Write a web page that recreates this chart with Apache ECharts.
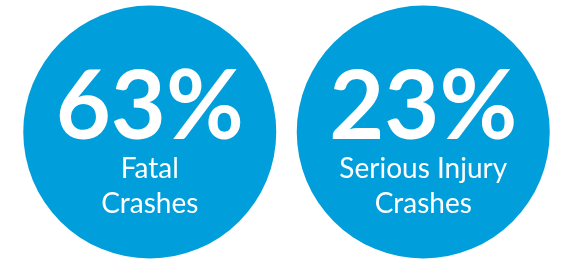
<!DOCTYPE html>
<html>
<head>
<meta charset="utf-8">
<script src="https://cdn.jsdelivr.net/npm/echarts@6/dist/echarts.min.js"></script>
<style>
  html, body { margin: 0; padding: 0; background: #fff; }
  #chart { width: 562px; height: 261px; }
</style>
</head>
<body>
<div id="chart"></div>
<script>
// share of crashes
const categories = ['Fatal Crashes', 'Serious Injury Crashes'];
const percents = [63, 23];
const firstLine = ['Fatal', 'Serious Injury'];
const secondLine = ['Crashes', 'Crashes'];

const chart = echarts.init(document.getElementById('chart'));

chart.setOption({
    animation: false,
    grid: { left: 13, width: 547, top: 6, height: 252 },
    xAxis: { type: 'category', data: categories, show: false },
    yAxis: { type: 'value', min: 0, max: 1, show: false },
    series: [{
        type: 'scatter',
        symbol: 'circle',
        symbolSize: 253,
        itemStyle: { color: '#009edb', opacity: 1 },
        data: percents.map((p, i) => [i, 0.5, p]),
        label: {
            show: true,
            position: 'inside',
            offset: [0, 11],
            formatter: (params) => {
                const i = params.dataIndex;
                return '{num|' + percents[i] + '%}\n{txt|' + firstLine[i] + '}\n{txt|' + secondLine[i] + '}';
            },
            rich: {
                num: {
                    fontFamily: 'Lato',
                    fontWeight: 'bold',
                    fontSize: 95,
                    lineHeight: 86,
                    color: '#fff',
                    align: 'center'
                },
                txt: {
                    fontFamily: 'Lato',
                    fontSize: 28,
                    lineHeight: 35,
                    color: '#fff',
                    align: 'center'
                }
            }
        }
    }]
});
</script>
</body>
</html>
